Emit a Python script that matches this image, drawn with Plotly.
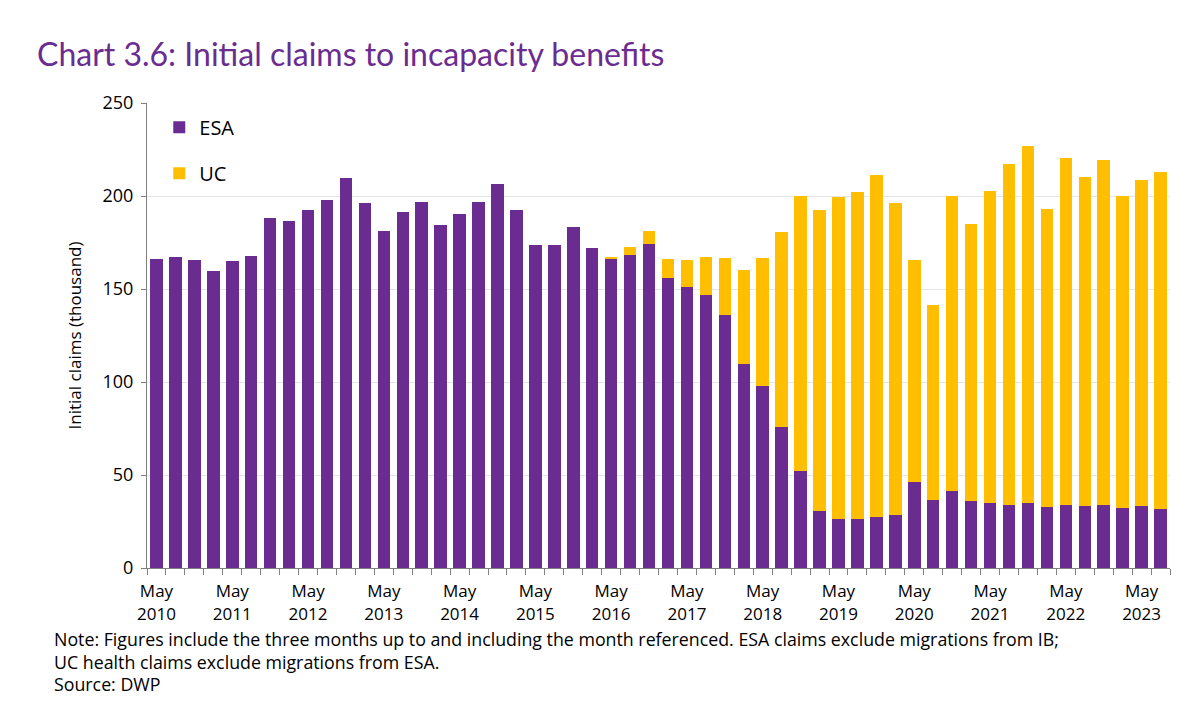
import plotly.graph_objects as go

# Quarters (three months to the referenced month), May 2010 .. Aug 2023
months = ["May", "Aug", "Nov", "Feb"]
categories = []
for i in range(54):
    m = months[i % 4]
    y = 2010 + (i + 1) // 4 if m == "Feb" else 2010 + i // 4
    categories.append(f"{m} {y}")

esa = [166.3, 167.0, 165.4, 159.8, 165.2, 167.7, 188.3, 186.5, 192.3, 197.6,
       209.7, 196.2, 181.3, 191.6, 196.9, 184.2, 190.1, 196.9, 206.4, 192.6,
       173.6, 173.8, 183.3, 172.0, 166.3, 168.4, 174.2, 155.9, 151.1, 146.9,
       136.2, 109.8, 97.6, 75.8, 52.1, 30.4, 26.5, 26.5, 27.4, 28.3,
       46.2, 36.5, 41.6, 36.0, 34.7, 33.7, 34.9, 32.6, 33.7, 33.5,
       34.0, 32.0, 33.5, 31.9]

total = [166.3, 167.0, 165.4, 159.8, 165.2, 167.7, 188.3, 186.5, 192.3, 197.6,
         209.7, 196.2, 181.3, 191.6, 196.9, 184.2, 190.1, 196.9, 206.4, 192.6,
         173.6, 173.8, 183.3, 172.0, 167.2, 172.6, 181.3, 166.1, 165.8, 167.0,
         166.7, 160.2, 166.5, 180.8, 200.2, 192.5, 199.6, 202.2, 211.3, 196.2,
         165.6, 141.4, 200.2, 184.9, 202.8, 217.0, 227.0, 193.0, 220.2, 210.4,
         219.5, 200.0, 208.8, 212.7]

uc = [round(t - e, 1) for t, e in zip(total, esa)]

tick_idx = list(range(0, 54, 4))
tick_text = [categories[i].replace(" ", "<br>") for i in tick_idx]
xpos = list(range(len(categories)))

PURPLE = "#6A2C91"
YELLOW = "#FFBF00"
TFONT = "Lato"
FONT = "Open Sans"

fig = go.Figure()
fig.add_trace(go.Bar(x=xpos, y=esa, name="ESA", marker_color=PURPLE,
                     marker_line_width=0, legendgroup="a",
                     hovertext=categories))
fig.add_trace(go.Bar(x=xpos, y=uc, name="UC", marker_color=YELLOW,
                     marker_line_width=0, legendgroup="b",
                     hovertext=categories))

fig.update_layout(
    barmode="stack",
    bargap=0.34,
    width=1200, height=714,
    margin=dict(l=147, r=30, t=103, b=146),
    paper_bgcolor="white", plot_bgcolor="white",
    font=dict(family=FONT, color="#000000"),
    title=dict(text="Chart 3.6: Initial claims to incapacity benefits",
               x=37 / 1200, xanchor="left", y=1 - 55 / 714, yanchor="middle",
               font=dict(size=32, color=PURPLE, family=TFONT)),
    legend=dict(x=0.012, y=0.99, xanchor="left", yanchor="top",
                font=dict(size=20, color="#000", family=FONT),
                bgcolor="rgba(0,0,0,0)",
                traceorder="grouped", tracegroupgap=17, itemwidth=30),
    xaxis=dict(range=[-0.5, 53.5], tickvals=tick_idx, ticktext=tick_text,
               ticks="", showgrid=False, showline=True, linecolor="#808080",
               linewidth=1, tickfont=dict(size=17, color="#000"),
               ticklabelstandoff=8,
               minor=dict(tickmode="linear", tick0=-0.5, dtick=1, ticks="outside",
                          ticklen=6, tickcolor="#808080", showgrid=False),
               zeroline=False),
    yaxis=dict(range=[0, 250], tickvals=[0, 50, 100, 150, 200, 250],
               ticks="outside", ticklen=5, tickcolor="#808080",
               showline=True, linecolor="#808080", linewidth=1,
               gridcolor="#E6E6E6", gridwidth=1, zeroline=False,
               tickfont=dict(size=18, color="#000"), ticklabelstandoff=4,
               title=dict(text="Initial claims (thousand)",
                          font=dict(size=17, color="#000"), standoff=16)),
)

notes = ["Note: Figures include the three months up to and including the month referenced. ESA claims exclude migrations from IB;",
         "UC health claims exclude migrations from ESA.",
         "Source: DWP"]
for k, line in enumerate(notes):
    fig.add_annotation(text=line, xref="paper", yref="paper",
                       x=-95 / 1023, y=-(639 + 22.5 * k - 568) / 465,
                       xanchor="left", yanchor="middle", showarrow=False,
                       font=dict(size=17.8, color="#000", family=FONT))

fig.write_html("out.html")
